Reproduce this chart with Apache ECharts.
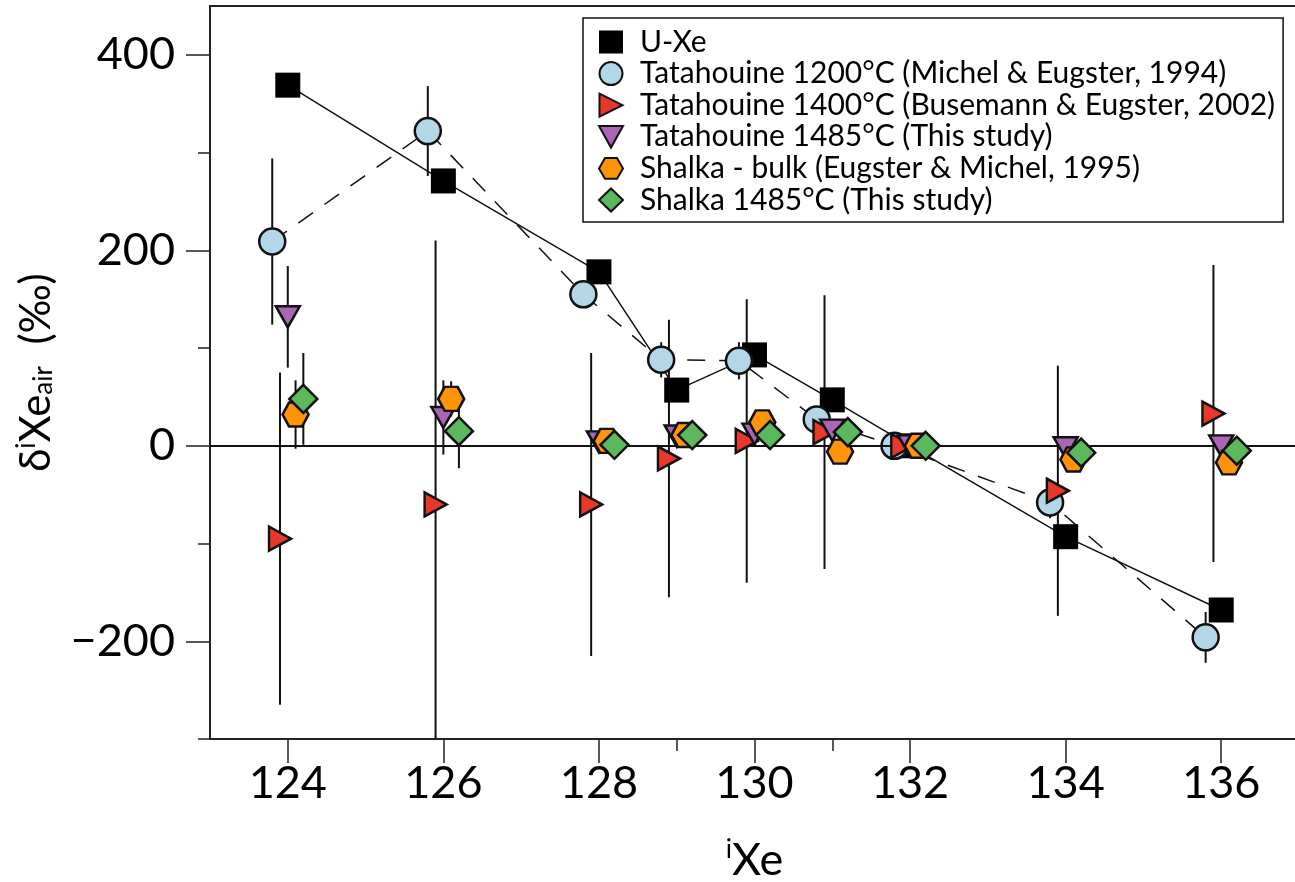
<!DOCTYPE html>
<html>
<head>
<meta charset="utf-8">
<script src="https://cdn.jsdelivr.net/npm/echarts@6/dist/echarts.min.js"></script>
<style>
  html, body { margin: 0; padding: 0; background: #fff; }
  #chart { width: 1295px; height: 882px; }
</style>
</head>
<body>
<div id="chart"></div>
<script>
// masses of the Xe isotopes
const masses = [124, 126, 128, 129, 130, 131, 132, 134, 136];
const xTicksMajor = [124, 126, 128, 130, 132, 134, 136];
const xTicksMinor = [129, 131];
const yTicksMajor = [-200, 0, 200, 400];
const yTicksMinor = [-300, -100, 100, 300];

// δiXe_air values (‰) and 1σ errors
const uXe = [369, 271, 178, 57, 93, 47, 0, -93, -168];
const tat1200 = [209, 322, 155, 88, 87, 27, 0, -58, -196];
const tat1200Err = [85, 46, 10, 18, 19, 10, 4, 16, 26];
const tat1400 = [-95, -60, -60, -13, 5, 14, 0, -46, 33];
const tat1400Err = [170, 270, 155, 142, 145, 140, 5, 128, 152];
const tat1485 = [132, 29, 4, 10, 12, 16, 0, -2, 0];
const tat1485Err = [52, 38, 8, 8, 8, 8, 4, 6, 8];
const shalkaBulk = [32, 48, 5, 11, 24, -6, 0, -14, -17];
const shalkaBulkErr = [35, 18, 10, 10, 12, 10, 4, 8, 8];
const shalka1485 = [48, 15, 1, 11, 11, 14, 0, -7, -5];
const shalka1485Err = [47, 38, 10, 8, 8, 8, 4, 8, 8];

const font = 'Lato, "DejaVu Sans", sans-serif';

const groups = [
    { name: 'U-Xe', dx: 0, y: uXe, err: null, symbol: 'rect', size: 25, color: '#000', line: 'solid' },
    { name: 'Tatahouine 1200°C (Michel & Eugster, 1994)', dx: -0.2, y: tat1200, err: tat1200Err,
      symbol: 'circle', size: 26, color: '#b3d6e9', line: [18, 14] },
    { name: 'Tatahouine 1400°C (Busemann & Eugster, 2002)', dx: -0.1, y: tat1400, err: tat1400Err,
      symbol: 'path://M0,0 L10,5 L0,10 Z', size: [22, 24], color: '#e8382b' },
    { name: 'Tatahouine 1485°C (This study)', dx: 0, y: tat1485, err: tat1485Err,
      symbol: 'path://M0,0 L10,0 L5,9 Z', size: [24, 21], color: '#a866b4' },
    { name: 'Shalka - bulk (Eugster & Michel, 1995)', dx: 0.1, y: shalkaBulk, err: shalkaBulkErr,
      symbol: 'path://M0,5 L2.5,0.7 L7.5,0.7 L10,5 L7.5,9.3 L2.5,9.3 Z', size: [26, 24], color: '#ff9409' },
    { name: 'Shalka 1485°C (This study)', dx: 0.2, y: shalka1485, err: shalka1485Err,
      symbol: 'diamond', size: 28, color: '#5cb85c' },
];

// error bars for every group
const errData = [];
groups.forEach(g => {
    if (!g.err) return;
    g.y.forEach((v, i) => {
        errData.push([masses[i] + g.dx, v - g.err[i], v + g.err[i]]);
    });
});

const series = [];

series.push({
    name: 'errors',
    type: 'custom',
    clip: true,
    z: 1,
    data: errData,
    encode: { x: 0, y: [1, 2] },
    renderItem: (params, api) => {
        const lo = api.coord([api.value(0), api.value(1)]);
        const hi = api.coord([api.value(0), api.value(2)]);
        return {
            type: 'line',
            shape: { x1: lo[0], y1: lo[1], x2: hi[0], y2: hi[1] },
            style: { stroke: '#111', lineWidth: 2 }
        };
    },
    markLine: {
        silent: true,
        symbol: 'none',
        label: { show: false },
        lineStyle: { color: '#111', width: 2, type: 'solid' },
        data: [{ yAxis: 0 }]
    }
});

// connecting lines
groups.filter(g => g.line).forEach(g => {
    series.push({
        name: g.name + ' line',
        type: 'line',
        z: 2,
        symbol: 'none',
        silent: true,
        data: g.y.map((v, i) => [masses[i] + g.dx, v]),
        lineStyle: { color: '#111', width: 1.5, type: g.line }
    });
});

// markers
groups.forEach((g, k) => {
    series.push({
        name: g.name,
        type: 'scatter',
        z: 3 + k,
        symbol: g.symbol,
        symbolSize: g.size,
        data: g.y.map((v, i) => [masses[i] + g.dx, v]),
        itemStyle: {
            color: g.color,
            opacity: 1,
            borderColor: '#111',
            borderWidth: g.symbol === 'rect' ? 0 : 2.5
        }
    });
});

const chart = echarts.init(document.getElementById('chart'));

const tickStyle = { color: '#222', width: 1.5 };

const option = {
    animation: false,
    grid: {
        left: 210, top: 6, right: -4, bottom: 143,
        outerBoundsMode: 'none',
        show: true, borderColor: '#222', borderWidth: 2
    },
    legend: {
        orient: 'vertical',
        left: 583,
        top: 18,
        padding: [9, 8, 7, 15],
        itemGap: 1.6,
        itemWidth: 24,
        itemHeight: 23,
        backgroundColor: '#fff',
        borderColor: '#111',
        borderWidth: 1.5,
        data: groups.map(g => g.name),
        textStyle: { fontFamily: font, fontSize: 30, lineHeight: 30, color: '#000', padding: [0, 0, 0, 12] }
    },
    xAxis: [
        {
            type: 'value', min: 123, max: 137,
            axisLine: { show: true, onZero: false, lineStyle: { color: '#222', width: 2 } },
            axisTick: { show: true, length: 24, customValues: xTicksMajor, lineStyle: tickStyle },
            axisLabel: { customValues: xTicksMajor, margin: 22, fontFamily: font, fontSize: 45, color: '#000' },
            splitLine: { show: false },
            name: '{sup|i}{big|Xe}',
            nameLocation: 'middle',
            nameGap: 98,
            nameTextStyle: {
                rich: {
                    sup: { fontFamily: font, fontSize: 26, color: '#000', padding: [0, 0, 20, 0] },
                    big: { fontFamily: font, fontSize: 45, color: '#000' }
                }
            }
        },
        {
            type: 'value', min: 123, max: 137, position: 'bottom',
            axisLine: { show: false, onZero: false },
            axisTick: { show: true, length: 12, customValues: xTicksMinor, lineStyle: tickStyle },
            axisLabel: { show: false },
            splitLine: { show: false }
        }
    ],
    yAxis: [
        {
            type: 'value', min: -300, max: 450,
            axisLine: { show: true, onZero: false, lineStyle: { color: '#222', width: 2 } },
            axisTick: { show: true, length: 24, customValues: yTicksMajor, lineStyle: tickStyle },
            axisLabel: {
                customValues: yTicksMajor, margin: 35, fontFamily: font, fontSize: 45, color: '#000',
                formatter: v => String(v).replace('-', '\u2212')
            },
            splitLine: { show: false },
            name: '{big|δ}{sup|i}{big|Xe}{sub|air}{big|  (‰)}',
            nameLocation: 'middle',
            nameRotate: 90,
            nameGap: 152,
            nameTextStyle: {
                rich: {
                    big: { fontFamily: font, fontSize: 42, color: '#000' },
                    sup: { fontFamily: font, fontSize: 26, color: '#000', padding: [0, 0, 18, 0] },
                    sub: { fontFamily: font, fontSize: 26, color: '#000', padding: [16, 0, 0, 0] }
                }
            }
        },
        {
            type: 'value', min: -300, max: 450, position: 'left',
            axisLine: { show: false, onZero: false },
            axisTick: { show: true, length: 12, customValues: yTicksMinor, lineStyle: tickStyle },
            axisLabel: { show: false },
            splitLine: { show: false }
        }
    ],
    series: series
};

chart.setOption(option);
</script>
</body>
</html>
